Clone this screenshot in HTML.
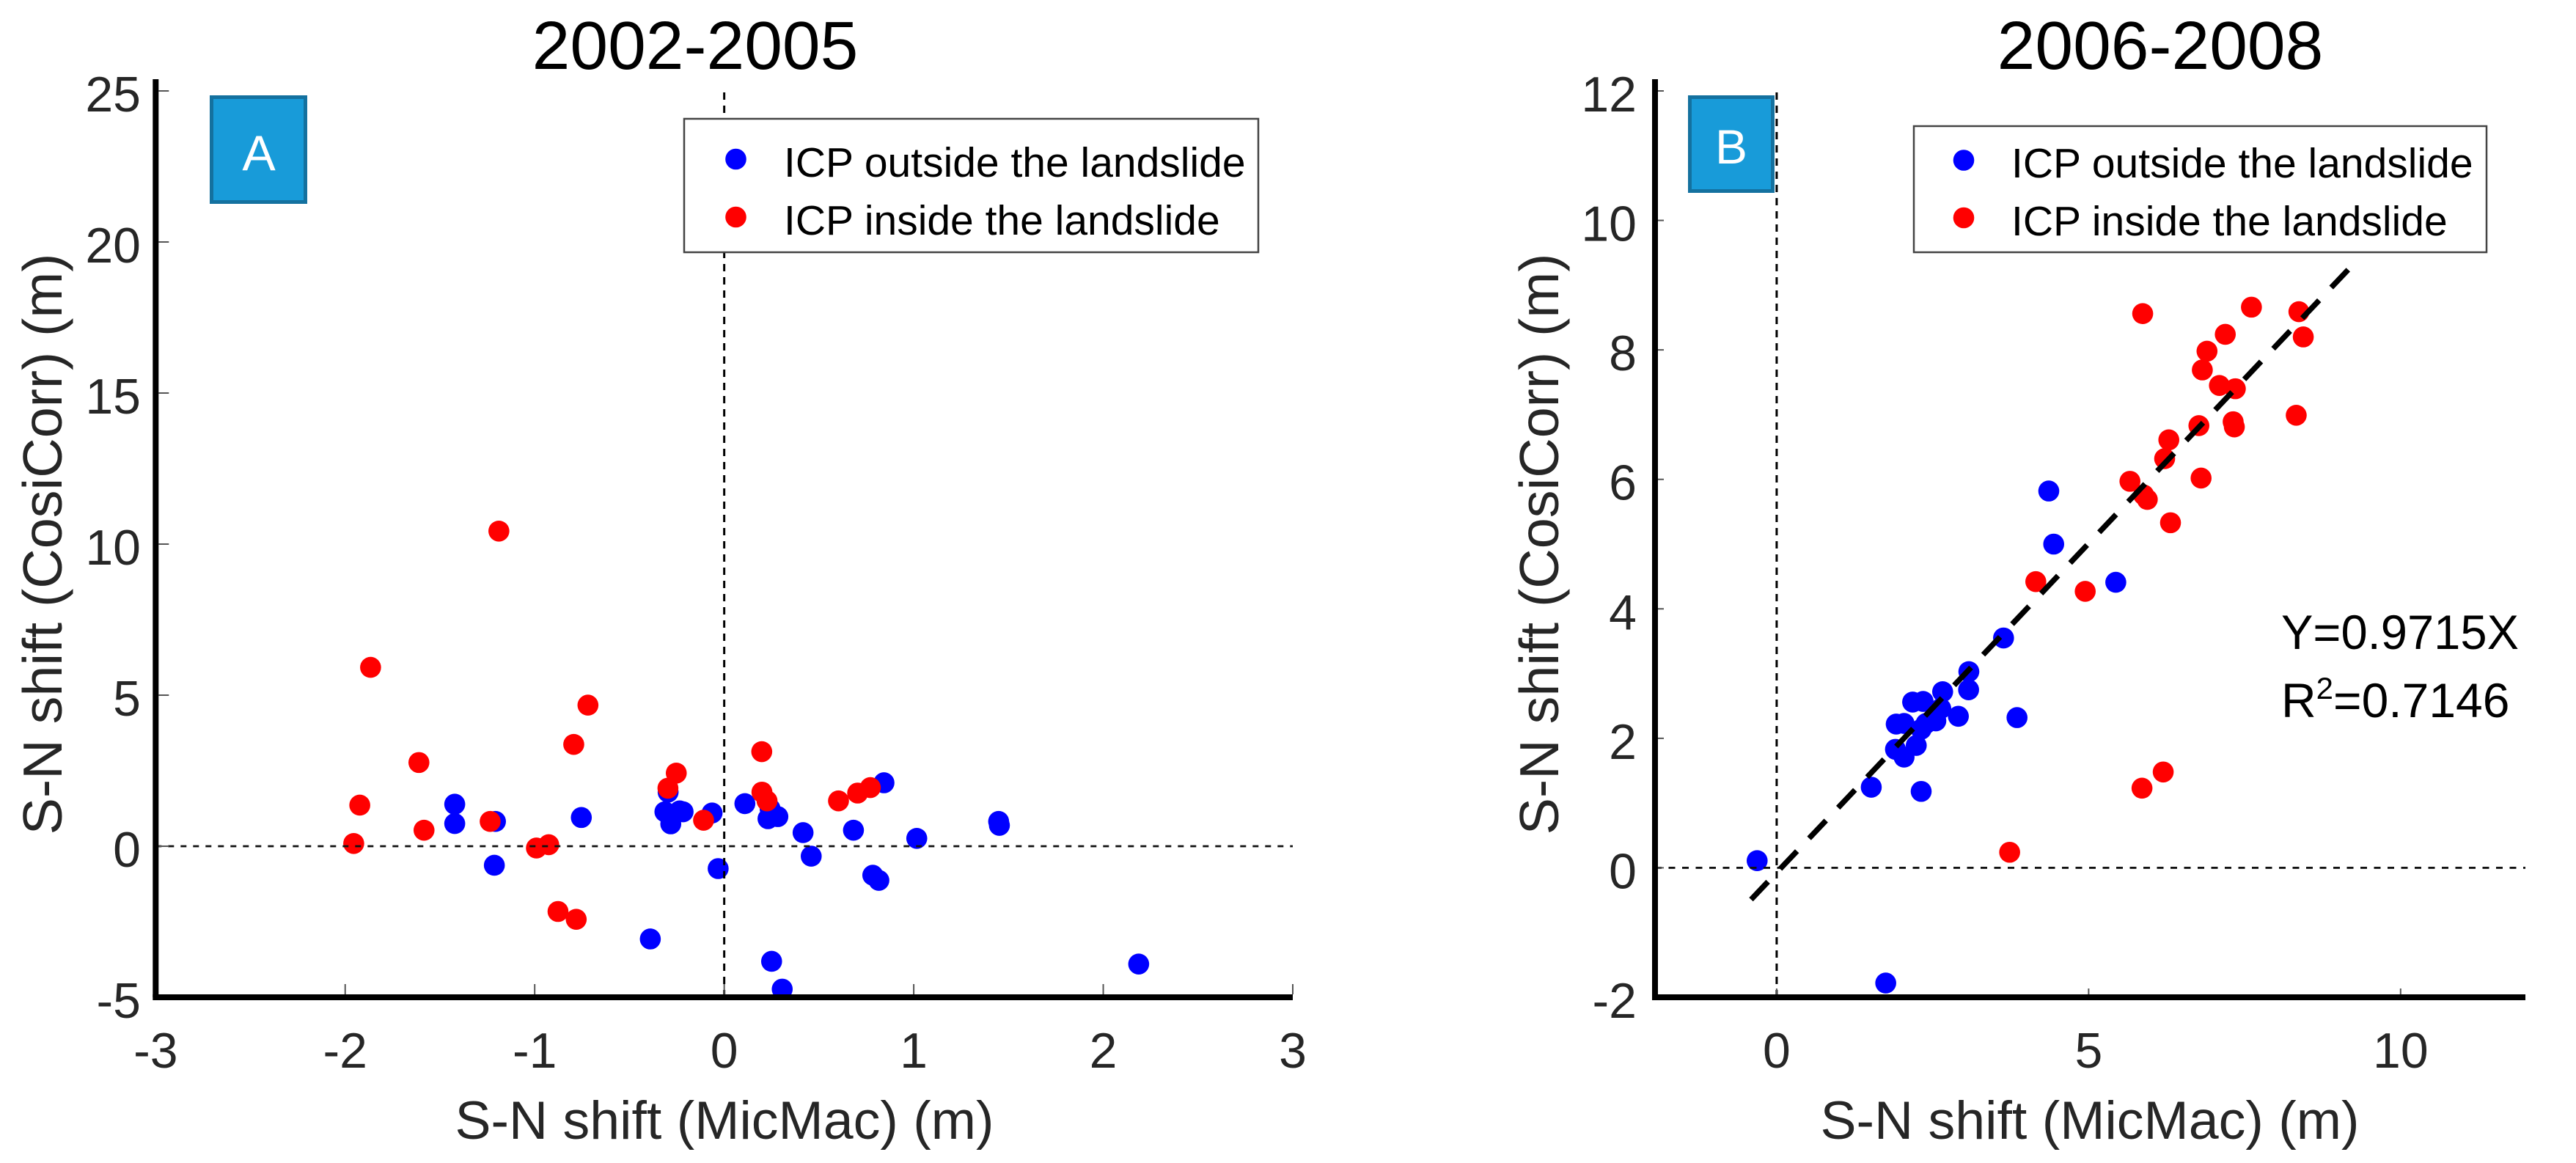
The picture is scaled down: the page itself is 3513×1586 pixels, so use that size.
<!DOCTYPE html>
<html lang="en">
<head>
<meta charset="utf-8">
<title>S-N shift comparison, MicMac vs CosiCorr</title>
<style>
  html, body { margin: 0; padding: 0; background: #fff; }
  svg { display: block; font-family: "Liberation Sans", Arial, sans-serif; }
</style>
</head>
<body>
<svg id="figure" xmlns="http://www.w3.org/2000/svg" width="3513" height="1586" viewBox="0 0 3513 1586">
  <rect x="0" y="0" width="3513" height="1586" fill="#fff"/>
  <g id="panel-a"></g>
  <g id="panel-b"></g>

  <text x="948" y="94" font-size="93" text-anchor="middle" fill="#000">2002-2005</text>
  <text x="2946" y="94" font-size="93" text-anchor="middle" fill="#000">2006-2008</text>

  <g>
    <rect x="288.5" y="132.5" width="128" height="143" fill="#189bd9" stroke="#14719f" stroke-width="5"/>
    <text x="353" y="232" font-size="68" text-anchor="middle" fill="#fff">A</text>
  </g>
  <g>
    <rect x="2304.5" y="132.5" width="113" height="128" fill="#189bd9" stroke="#14719f" stroke-width="5"/>
    <text x="2361" y="223" font-size="66" text-anchor="middle" fill="#fff">B</text>
  </g>

  <g>
    <rect x="933" y="162" width="783" height="182" fill="#fff" stroke="#444" stroke-width="2.5"/>
    <circle cx="1003.5" cy="217" r="14.3" fill="#0000ff"/>
    <text x="1069" y="241" font-size="57" fill="#000">ICP outside the landslide</text>
    <circle cx="1003.5" cy="296" r="14.3" fill="#ff0000"/>
    <text x="1069" y="320" font-size="57" fill="#000">ICP inside the landslide</text>
  </g>
  <g>
    <rect x="2610" y="172" width="781" height="172" fill="#fff" stroke="#444" stroke-width="2.5"/>
    <circle cx="2678" cy="218.5" r="14.3" fill="#0000ff"/>
    <text x="2743" y="242" font-size="57" fill="#000">ICP outside the landslide</text>
    <circle cx="2678" cy="297" r="14.3" fill="#ff0000"/>
    <text x="2743" y="321" font-size="57" fill="#000">ICP inside the landslide</text>
  </g>

  <text x="3111" y="885" font-size="66" textLength="324" lengthAdjust="spacingAndGlyphs" fill="#000">Y=0.9715X</text>
  <text x="3111" y="978" font-size="66" fill="#000">R<tspan dy="-25" font-size="42">2</tspan><tspan dy="25">=0.7146</tspan></text>
</svg>

<script>
// Panel A (2002-2005) data
var aXTicks = [-3, -2, -1, 0, 1, 2, 3];
var aYTicks = [-5, 0, 5, 10, 15, 20, 25];
var aOutsideX = [-1.422, -1.422, -1.207, -1.213, -0.754, -0.390, -0.296, -0.313, -0.235, -0.217, -0.282, -0.064, -0.032, 0.109, 0.231, 0.242, 0.283, 0.416, 0.459, 0.250, 0.306, 0.682, 0.784, 0.816, 0.843, 1.016, 1.448, 1.452, 2.187];
var aOutsideY = [1.39, 0.75, 0.82, -0.63, 0.95, -3.07, 1.79, 1.14, 1.17, 1.14, 0.74, 1.10, -0.74, 1.41, 0.91, 1.24, 0.98, 0.45, -0.33, -3.81, -4.73, 0.53, -0.96, -1.13, 2.10, 0.26, 0.82, 0.69, -3.90];
var aInsideX = [-1.189, -1.866, -0.719, -0.794, -1.611, -1.923, -1.584, -1.955, -1.235, -0.991, -0.926, -0.253, -0.297, -0.109, 0.198, 0.199, 0.226, 0.603, 0.704, 0.771, -0.877, -0.781];
var aInsideY = [10.43, 5.92, 4.67, 3.37, 2.77, 1.36, 0.53, 0.09, 0.82, -0.06, 0.05, 2.42, 1.92, 0.86, 3.13, 1.79, 1.50, 1.50, 1.76, 1.94, -2.16, -2.42];

// Panel B (2006-2008) data
var bXTicks = [0, 5, 10];
var bYTicks = [-2, 0, 2, 4, 6, 8, 10, 12];
var bOutsideX = [4.361, 4.440, 5.435, 3.636, 3.080, 3.076, 3.852, 2.912, 2.660, 2.179, 2.347, 2.630, 2.551, 2.394, 2.042, 1.916, 2.316, 2.237, 1.904, 2.042, 1.516, 2.316, 1.748, -0.313];
var bOutsideY = [5.82, 5.00, 4.41, 3.55, 3.03, 2.75, 2.32, 2.34, 2.72, 2.56, 2.57, 2.46, 2.27, 2.23, 2.23, 2.22, 2.14, 1.89, 1.83, 1.71, 1.245, 1.18, -1.78, 0.11];
var bInsideX = [5.866, 7.609, 8.370, 7.190, 8.440, 6.897, 6.822, 7.096, 7.351, 8.327, 7.316, 7.335, 6.767, 6.285, 6.218, 6.802, 5.662, 5.881, 5.940, 6.312, 4.945, 4.153, 5.855, 6.195, 3.734];
var bInsideY = [8.56, 8.66, 8.59, 8.24, 8.20, 7.98, 7.69, 7.45, 7.40, 6.99, 6.89, 6.81, 6.83, 6.61, 6.32, 6.02, 5.97, 5.76, 5.69, 5.33, 4.27, 4.42, 1.23, 1.48, 0.24];
var bFitX = [-0.41, 9.18];
var bFitY = [-0.49, 9.26];

var SVG_NS = 'http://www.w3.org/2000/svg';

function make(tag, parent, attrs) {
  var el = document.createElementNS(SVG_NS, tag);
  for (var k in attrs) { el.setAttribute(k, attrs[k]); }
  parent.appendChild(el);
  return el;
}

function drawPanel(p) {
  var g = document.getElementById(p.id);
  var xScale = function (v) { return p.x0 + (v - p.xMin) * (p.x1 - p.x0) / (p.xMax - p.xMin); };
  var yScale = function (v) { return p.y0 + (v - p.yMin) * (p.y1 - p.y0) / (p.yMax - p.yMin); };

  // markers: outside first, inside on top
  for (var i = 0; i < p.outX.length; i++) {
    var blue = make('circle', g, { cx: xScale(p.outX[i]), cy: yScale(p.outY[i]), r: 14.3, fill: '#0000ff' });
    
    
  }
  for (var j = 0; j < p.inX.length; j++) {
    var red = make('circle', g, { cx: xScale(p.inX[j]), cy: yScale(p.inY[j]), r: 14.3, fill: '#ff0000' });
    
    
  }

  // zero reference lines
  var hz = make('line', g, { x1: p.x0, x2: p.x1, y1: yScale(0), y2: yScale(0), stroke: '#111', 'stroke-width': 2.8, 'stroke-dasharray': p.hDash });
  
  
  var vz = make('line', g, { x1: xScale(0), x2: xScale(0), y1: p.y0, y2: yScale(p.yMax), stroke: '#000', 'stroke-width': 3, 'stroke-dasharray': '10 8' });
  
  

  // regression line
  if (p.fitX) {
    var fit = make('line', g, { x1: xScale(p.fitX[0]), y1: yScale(p.fitY[0]), x2: xScale(p.fitX[1]), y2: yScale(p.fitY[1]), stroke: '#000', 'stroke-width': 7.5, 'stroke-dasharray': '33.5 24' });
    
    
  }

  // ticks and tick labels
  p.xTicks.forEach(function (t) {
    var tick = make('line', g, { x1: xScale(t), x2: xScale(t), y1: p.y0 - 4, y2: p.y0 - 4 - p.tickLen, stroke: '#555', 'stroke-width': 2 });
    
    
    var label = make('text', g, { x: xScale(t), y: 1456, 'font-size': 68, 'text-anchor': 'middle', fill: '#262626' });
    label.textContent = String(t);
    
    
  });
  p.yTicks.forEach(function (t) {
    var tick = make('line', g, { x1: p.x0 + 4, x2: p.x0 + 4 + p.tickLen, y1: yScale(t), y2: yScale(t), stroke: '#555', 'stroke-width': 2 });
    
    
    var label = make('text', g, { x: p.yLabelX, y: yScale(t) + 28, 'font-size': 68, 'text-anchor': 'end', fill: '#262626' });
    label.textContent = String(t);
    
    
  });

  // axis spines
  var xAxis = make('line', g, { x1: p.x0 - 4, x2: p.x1, y1: p.y0, y2: p.y0, stroke: '#000', 'stroke-width': 8 });
  
  
  var yAxis = make('line', g, { x1: p.x0, x2: p.x0, y1: 108, y2: p.y0, stroke: '#000', 'stroke-width': 8 });
  
  

  // axis titles
  var xTitle = make('text', g, { x: p.xTitleX, y: 1553, 'font-size': 73.5, 'text-anchor': 'middle', fill: '#262626' });
  xTitle.textContent = 'S-N shift (MicMac) (m)';
  
  
  var yTitle = make('text', g, { x: 0, y: 0, 'font-size': 75.5, 'text-anchor': 'middle', fill: '#262626', transform: 'translate(' + p.yTitleX + ',742) rotate(-90)' });
  yTitle.textContent = 'S-N shift (CosiCorr) (m)';
  
  
}

drawPanel({
  id: 'panel-a',
  x0: 212.3, x1: 1763, y0: 1360, y1: 124,
  xMin: -3, xMax: 3, yMin: -5, yMax: 25,
  xTicks: aXTicks, yTicks: aYTicks,
  outX: aOutsideX, outY: aOutsideY, inX: aInsideX, inY: aInsideY,
  tickLen: 14, hDash: '8 9', yLabelX: 192, xTitleX: 988, yTitleX: 84
});

drawPanel({
  id: 'panel-b',
  x0: 2257, x1: 3444, y0: 1360, y1: 124,
  xMin: -1.95, xMax: 12, yMin: -2, yMax: 12,
  xTicks: bXTicks, yTicks: bYTicks,
  outX: bOutsideX, outY: bOutsideY, inX: bInsideX, inY: bInsideY,
  fitX: bFitX, fitY: bFitY,
  tickLen: 8, hDash: '9 9.5', yLabelX: 2232, xTitleX: 2850, yTitleX: 2125
});
</script>
</body>
</html>
